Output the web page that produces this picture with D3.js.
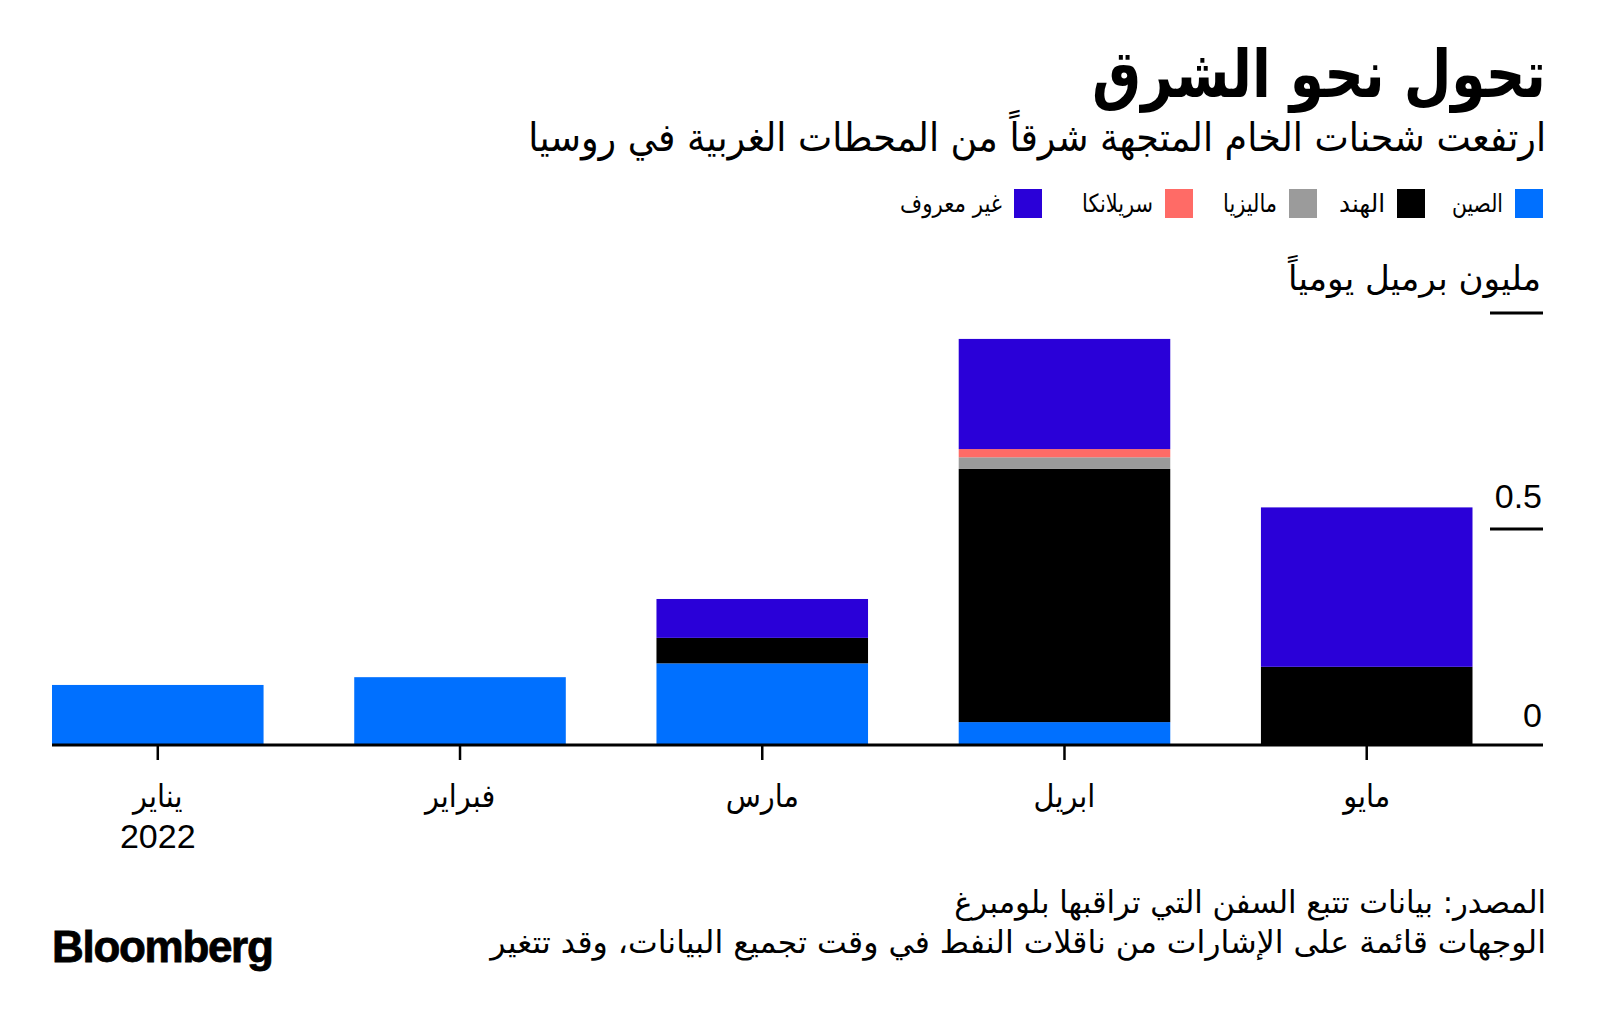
<!DOCTYPE html>
<html><head><meta charset="utf-8">
<script src="https://cdn.jsdelivr.net/npm/d3@7"></script>
<style>
html,body{margin:0;padding:0;background:#fff;}
svg{display:block;}
.ar{font-family:"DejaVu Sans Condensed","DejaVu Sans",sans-serif;}
</style></head>
<body>
<svg id="chart" width="1600" height="1028"></svg>
<script>
// ---- data ----
const months = ["يناير","فبراير","مارس","ابريل","مايو"];
const yearLabel = "2022";
const seriesNames = ["الصين","الهند","ماليزيا","سريلانكا","غير معروف"];
const seriesKeys = ["china","india","malaysia","sriLanka","unknown"];
const seriesColors = ["#0070ff","#000000","#9b9b9b","#ff6b66","#2a00d8"];
const china    = [0.139, 0.157, 0.189, 0.053, 0.000];
const india    = [0.000, 0.000, 0.059, 0.586, 0.181];
const malaysia = [0.000, 0.000, 0.000, 0.027, 0.000];
const sriLanka = [0.000, 0.000, 0.000, 0.019, 0.000];
const unknown  = [0.000, 0.000, 0.090, 0.255, 0.369];
const yTicks = [0, 0.5, 1];
const yTickLabels = ["0", "0.5", "مليون برميل يومياً"];
const title = "تحول نحو الشرق";
const subtitle = "ارتفعت شحنات الخام المتجهة شرقاً من المحطات الغربية في روسيا";
const source1 = "المصدر: بيانات تتبع السفن التي تراقبها بلومبرغ";
const source2 = "الوجهات قائمة على الإشارات من ناقلات النفط في وقت تجميع البيانات، وقد تتغير";

// ---- build table ----
const table = months.map((m,i)=>({month:m, china:china[i], india:india[i], malaysia:malaysia[i], sriLanka:sriLanka[i], unknown:unknown[i]}));
const stacked = d3.stack().keys(seriesKeys)(table);

const svg = d3.select("#chart");

const x = d3.scaleBand().domain(months).range([52, 1472.5]).paddingInner(0.3).paddingOuter(0);
const y = d3.scaleLinear().domain([0,1]).range([745, 313]);

function fitText(sel, tx, ty, width){
  const w = sel.node().getComputedTextLength();
  sel.attr("x",0).attr("y",0).attr("transform",`translate(${tx},${ty}) scale(${width/w},1)`);
}

// title
fitText(svg.append("text").attr("class","ar").attr("text-anchor","end")
  .attr("font-size",66).attr("font-weight","bold").attr("fill","#000").text(title), 1546, 97, 454);
fitText(svg.append("text").attr("class","ar").attr("text-anchor","end")
  .attr("font-size",39).attr("fill","#000").text(subtitle), 1546, 151, 1018);

// legend
const legendRight = [1543, 1425, 1317, 1193, 1042];
const legendTextW = [51, 46, 54, 71, 102];
seriesNames.forEach((n,i)=>{
  const g = svg.append("g");
  g.append("rect").attr("x", legendRight[i]-28).attr("y",189).attr("width",28).attr("height",29).attr("fill",seriesColors[i]);
  fitText(g.append("text").attr("class","ar").attr("text-anchor","end").attr("font-size",25).attr("fill","#000").text(n),
    legendRight[i]-40, 212, legendTextW[i]);
});

// bars
const layers = svg.append("g").selectAll("g").data(stacked).join("g")
  .attr("fill",(d,i)=>seriesColors[i]);
layers.selectAll("rect").data(d=>d.filter(p=>p[1]-p[0]>0)).join("rect")
  .attr("x",d=>x(d.data.month)).attr("width",x.bandwidth())
  .attr("y",d=>y(d[1])).attr("height",d=>y(d[0])-y(d[1]));

// y axis ticks (right side short lines)
const yAxis = svg.append("g");
yTicks.forEach((t,i)=>{
  if(i>0){
    yAxis.append("line").attr("x1",1490).attr("x2",1543).attr("y1",y(t)).attr("y2",y(t))
      .attr("stroke","#000").attr("stroke-width",3);
  }
});
yAxis.append("text").attr("text-anchor","end").attr("font-family","Liberation Sans, Arial, sans-serif")
  .attr("font-size",34).attr("x",1542).attr("y",y(0)-18).text(yTickLabels[0]);
yAxis.append("text").attr("text-anchor","end").attr("font-family","Liberation Sans, Arial, sans-serif")
  .attr("font-size",34).attr("x",1542).attr("y",y(0.5)-21).text(yTickLabels[1]);
fitText(yAxis.append("text").attr("class","ar").attr("text-anchor","end").attr("font-size",34)
  .attr("font-weight",300).attr("fill","#000").text(yTickLabels[2]), 1541, y(1)-23, 253);

// x axis
const xAxisG = svg.append("g").attr("transform",`translate(0,${y(0)})`)
  .call(d3.axisBottom(x).tickSize(15).tickPadding(0).tickFormat(()=>""));
xAxisG.select(".domain").remove();
xAxisG.selectAll(".tick line").attr("stroke","#000").attr("stroke-width",2.5);
svg.append("line").attr("x1",52).attr("x2",1543).attr("y1",y(0)).attr("y2",y(0)).attr("stroke","#000").attr("stroke-width",3);

months.forEach((m,i)=>{
  svg.append("text").attr("class","ar").attr("text-anchor","middle").attr("font-size",32)
    .attr("x",x(m)+x.bandwidth()/2).attr("y",807).text(m);
});
svg.append("text").attr("text-anchor","middle").attr("font-family","Liberation Sans Narrow, Liberation Sans, sans-serif")
  .attr("font-size",34).attr("x",x(months[0])+x.bandwidth()/2).attr("y",848).text(yearLabel);

// footer
fitText(svg.append("text").attr("class","ar").attr("text-anchor","end").attr("font-size",31).text(source1), 1546, 913, 592);
fitText(svg.append("text").attr("class","ar").attr("text-anchor","end").attr("font-size",31).text(source2), 1546, 953, 1056);

svg.append("text").attr("x",52).attr("y",962).attr("font-family","Liberation Sans, Arial, sans-serif")
  .attr("font-weight","bold").attr("font-size",44).attr("letter-spacing",-1.3)
  .attr("stroke","#000").attr("stroke-width",0.8).text("Bloomberg");
</script>
</body></html>
